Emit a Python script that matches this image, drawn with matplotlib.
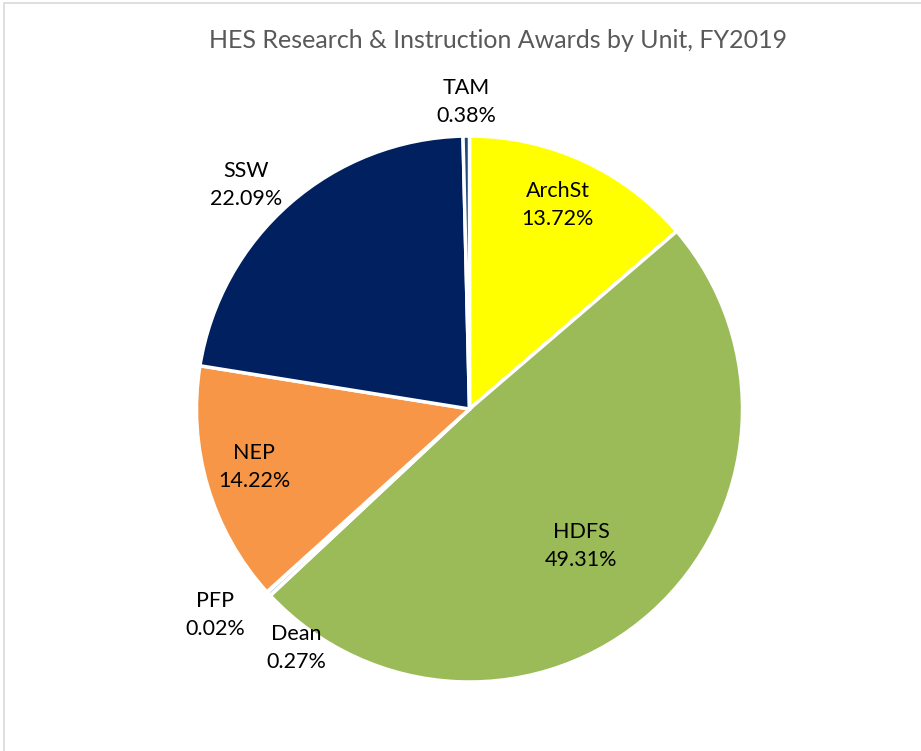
import matplotlib
matplotlib.use("Agg")
import matplotlib.pyplot as plt
from matplotlib.patches import Rectangle

units = ["ArchSt", "HDFS", "Dean", "PFP", "NEP", "SSW", "TAM"]
shares = [13.72, 49.31, 0.27, 0.02, 14.22, 22.09, 0.38]
colors = ["#FFFF00", "#9BBB59", "#C6D9F1", "#4BACC6", "#F79646", "#002060", "#1F497D"]
# label centres, in pie-radius units
label_pos = [(0.324, 0.749), (0.408, -0.502), (-0.636, -0.875), (-0.932, -0.756),
             (-0.789, -0.212), (-0.818, 0.822), (-0.013, 1.125)]

plt.rcParams['font.family'] = ['Lato', 'DejaVu Sans']

fig = plt.figure(figsize=(9.21, 7.51), dpi=100)
ax = fig.add_axes([196.5 / 921, (751 - 682) / 751, 546 / 921, 546 / 751])

wedges, _ = ax.pie(shares, colors=colors, startangle=90, counterclock=False,
                   radius=1, wedgeprops=dict(edgecolor="white", linewidth=2.5))

for name, val, (x, y) in zip(units, shares, label_pos):
    ax.text(x, y, f"{name}\n{val:.2f}%", ha="center", va="center",
            fontsize=15.5, color="#000000", linespacing=1.5, clip_on=False)

ax.set_xlim(-1, 1)
ax.set_ylim(-1, 1)
ax.set_aspect("equal")
ax.axis("off")

fig.text(498.5 / 921, 1 - 40 / 751, "HES Research & Instruction Awards by Unit, FY2019",
         ha="center", va="center", fontsize=18, color="#595959")

# chart frame
fig.patches.append(Rectangle((4 / 921, -0.05), 1.0, 1 - 3 / 751 + 0.05,
                             transform=fig.transFigure, fill=False,
                             edgecolor="#D9D9D9", linewidth=1.2))

fig.savefig("out.png", dpi=100)
